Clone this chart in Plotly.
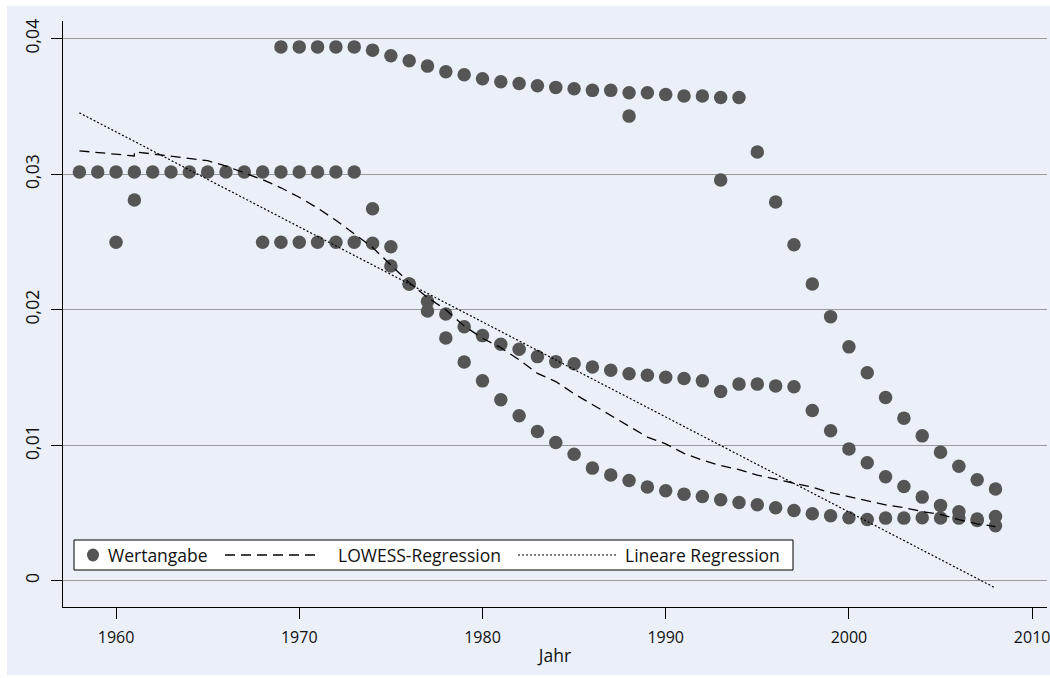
import plotly.graph_objects as go

# ---------------------------------------------------------------
# Data: yearly values (Wertangabe) for three groups plus outliers
# ---------------------------------------------------------------
years_a = list(range(1969, 2009))
values_a = [
    0.0394, 0.0394, 0.0394, 0.0394, 0.0394, 0.03916, 0.03874, 0.03837,
    0.03798, 0.03756, 0.03734, 0.03705, 0.03683, 0.0367, 0.03653, 0.03641,
    0.03631, 0.03619, 0.03619, 0.03601, 0.03601, 0.03589, 0.03577, 0.03577,
    0.03567, 0.03567, 0.03164, 0.02795, 0.0248, 0.0219, 0.01949, 0.01726,
    0.01535, 0.01352, 0.0120, 0.01069, 0.00949, 0.00845, 0.00745, 0.00677,
]

years_b = list(range(1958, 2009))
values_b = [
    0.03016, 0.03016, 0.03016, 0.03016, 0.03016, 0.03016, 0.03016, 0.03016,
    0.03016, 0.03016, 0.03016, 0.03016, 0.03016, 0.03016, 0.03016, 0.03016,
    0.02746, 0.02323, 0.0219, 0.0206, 0.01969, 0.01875, 0.01809, 0.01746,
    0.01709, 0.01654, 0.01617, 0.01602, 0.01578, 0.01554, 0.01527, 0.01517,
    0.01502, 0.01492, 0.01475, 0.01396, 0.01451, 0.01451, 0.01438, 0.01431,
    0.01257, 0.01107, 0.00973, 0.00871, 0.00767, 0.00695, 0.00617, 0.00556,
    0.00509, 0.00455, 0.00474,
]

years_c = list(range(1968, 2009))
values_c = [
    0.02498, 0.02498, 0.02498, 0.02498, 0.02498, 0.02498, 0.0249, 0.02465,
    0.0219, 0.01991, 0.01792, 0.01615, 0.01475, 0.01335, 0.01217, 0.01101,
    0.0102, 0.00934, 0.00831, 0.0078, 0.0074, 0.00691, 0.00664, 0.00639,
    0.00622, 0.00597, 0.00577, 0.0056, 0.00538, 0.00518, 0.00494, 0.00479,
    0.00465, 0.00452, 0.00462, 0.00462, 0.00464, 0.00463, 0.00462, 0.00445,
    0.00406,
]

years_extra = [1960, 1961, 1988, 1993]
values_extra = [0.02498, 0.0281, 0.03429, 0.02957]

# Smoothed curve (LOWESS) and linear fit
lowess_years = [
    1958, 1961, 1961, 1962, 1964, 1965, 1966, 1967, 1968, 1969, 1970, 1971,
    1972, 1973, 1974, 1975, 1976, 1977, 1978, 1979, 1980, 1981, 1982, 1983,
    1984, 1985, 1986, 1987, 1988, 1989, 1990, 1991, 1992, 1993, 1994, 1995,
    1996, 1997, 1998, 1999, 2000, 2001, 2002, 2003, 2004, 2005, 2006, 2007,
    2008,
]
lowess_values = [
    0.03173, 0.03135, 0.03166, 0.0315, 0.0312, 0.0310, 0.0306, 0.0301,
    0.0296, 0.0290, 0.0283, 0.0275, 0.0266, 0.0256, 0.0246, 0.0233,
    0.0220, 0.0209, 0.0200, 0.0188, 0.0179, 0.0172, 0.0163, 0.0153,
    0.0147, 0.0138, 0.0130, 0.0122, 0.0114, 0.0106, 0.0101, 0.0094,
    0.0089, 0.0085, 0.0082, 0.0078, 0.0075, 0.0072, 0.0069, 0.0065,
    0.0062, 0.0059, 0.0056, 0.0054, 0.0051, 0.0049, 0.0045, 0.0042,
    0.0040,
]
linear_years = [1958, 2008]
linear_values = [0.03453, -0.00054]

x_ticks = [1960, 1970, 1980, 1990, 2000, 2010]
y_ticks = [0, 0.01, 0.02, 0.03, 0.04]
y_ticklabels = ["0", "0,01", "0,02", "0,03", "0,04"]

legend_labels = ["Wertangabe", "LOWESS-Regression", "Lineare Regression"]

# ---------------------------------------------------------------
# Layout geometry (pixels)
# ---------------------------------------------------------------
W, H = 1050, 678
ML, MR, MT, MB = 63, 3, 21, 71
PW, PH = W - ML - MR, H - MT - MB

FONT = "Open Sans"
FS = 17.5
FS_X = 16
TXT = "#111111"
DOT = "#555555"
BG = "#EAEFF8"


def fx(p):
    """horizontal pixel -> paper fraction"""
    return (p - ML) / PW


def fy(p):
    """vertical pixel (from top) -> paper fraction"""
    return (H - MB - p) / PH


fig = go.Figure()

all_years = years_b + years_c + years_a + years_extra
all_values = values_b + values_c + values_a + values_extra

fig.add_trace(go.Scatter(
    x=all_years, y=all_values, mode="markers", name=legend_labels[0],
    marker=dict(color=DOT, size=13.5, line=dict(width=0)),
    showlegend=False, hoverinfo="skip",
))
fig.add_trace(go.Scatter(
    x=lowess_years, y=lowess_values, mode="lines", name=legend_labels[1],
    line=dict(color="black", width=1.3, dash="10px,6px"),
    showlegend=False, hoverinfo="skip",
))
fig.add_trace(go.Scatter(
    x=linear_years, y=linear_values, mode="lines", name=legend_labels[2],
    line=dict(color="black", width=1.2, dash="2px,2px"),
    showlegend=False, hoverinfo="skip",
))

shapes = [
    # light background panel
    dict(type="rect", xref="paper", yref="paper", layer="below",
         x0=fx(7), x1=fx(W + 5), y0=fy(675), y1=fy(6),
         fillcolor=BG, line=dict(width=0)),
]

# legend box drawn in the lower left of the plot
LY = 555
shapes += [
    dict(type="rect", xref="paper", yref="paper", layer="above",
         x0=fx(74), x1=fx(793), y0=fy(570), y1=fy(540),
         fillcolor="white", line=dict(color="black", width=1)),
    dict(type="circle", xref="paper", yref="paper", layer="above",
         x0=fx(87), x1=fx(99), y0=fy(561.5), y1=fy(548.5),
         fillcolor=DOT, line=dict(width=0)),
    dict(type="line", xref="paper", yref="paper", layer="above",
         x0=fx(225), x1=fx(320), y0=fy(LY), y1=fy(LY),
         line=dict(color="black", width=1.3, dash="10px,6px")),
    dict(type="line", xref="paper", yref="paper", layer="above",
         x0=fx(518), x1=fx(617), y0=fy(LY), y1=fy(LY),
         line=dict(color="black", width=1.2, dash="2px,2px")),
]

annotations = [
    dict(text=legend_labels[0], x=fx(106), y=fy(LY), xref="paper", yref="paper",
         xanchor="left", yanchor="middle", showarrow=False,
         font=dict(family=FONT, size=FS, color=TXT)),
    dict(text=legend_labels[1], x=fx(336), y=fy(LY), xref="paper", yref="paper",
         xanchor="left", yanchor="middle", showarrow=False,
         font=dict(family=FONT, size=FS, color=TXT)),
    dict(text=legend_labels[2], x=fx(623), y=fy(LY), xref="paper", yref="paper",
         xanchor="left", yanchor="middle", showarrow=False,
         font=dict(family=FONT, size=FS, color=TXT)),
]

fig.update_layout(
    width=W, height=H,
    margin=dict(l=ML, r=MR, t=MT, b=MB, pad=0),
    paper_bgcolor="white",
    plot_bgcolor="rgba(0,0,0,0)",
    showlegend=False,
    separators=",.",
    font=dict(family=FONT, size=FS, color=TXT),
    shapes=shapes,
    annotations=annotations,
)

fig.update_xaxes(
    range=[1957.105, 2010.81],
    tickvals=x_ticks,
    showgrid=False, zeroline=False,
    showline=True, linecolor="black", linewidth=1.3,
    ticks="outside", ticklen=11, tickwidth=1.3, tickcolor="black",
    tickfont=dict(family=FONT, size=FS_X, color=TXT),
    ticklabelstandoff=5,
    ticklabeloverflow="allow",
    title=dict(text="Jahr", font=dict(family=FONT, size=FS, color=TXT), standoff=2),
    automargin=False,
)

fig.update_yaxes(
    range=[-0.00194, 0.04131],
    tickvals=y_ticks, ticktext=y_ticklabels,
    tickangle=-90,
    showgrid=True, gridcolor="#9a9a9a", gridwidth=1.3,
    zeroline=False,
    showline=True, linecolor="black", linewidth=1.3,
    ticks="outside", ticklen=11, tickwidth=1.3, tickcolor="black",
    tickfont=dict(family=FONT, size=FS, color=TXT),
    ticklabelstandoff=5,
    automargin=False,
)

fig.write_html("out.html")
